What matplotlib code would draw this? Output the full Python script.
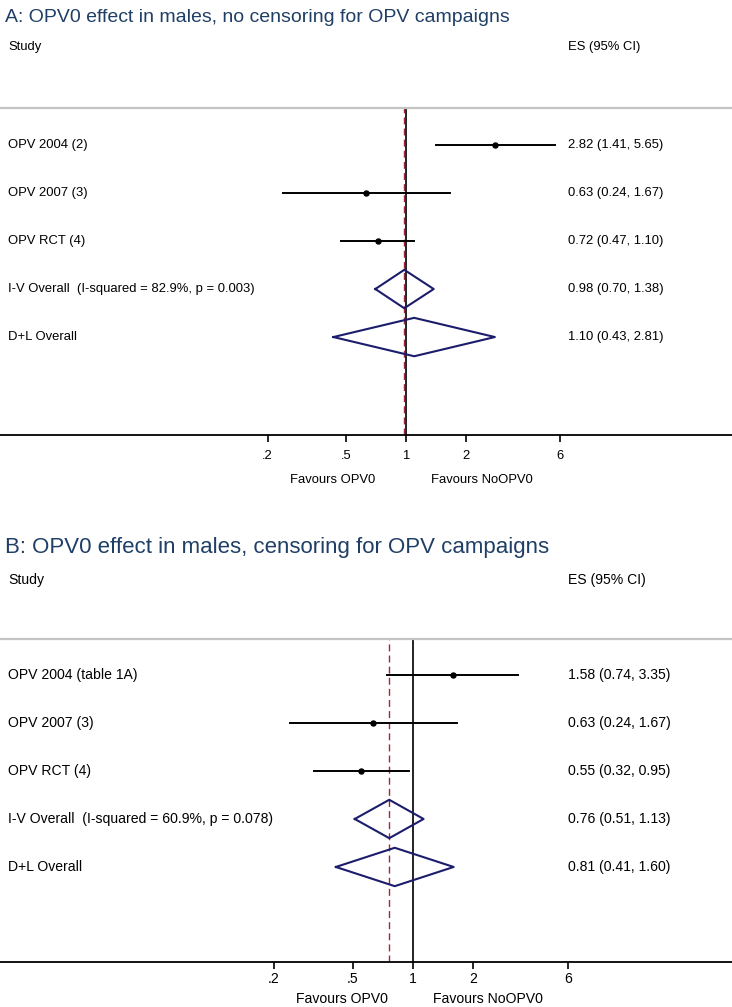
import numpy as np
import matplotlib.pyplot as plt

# Panel A: no censoring
titulo_a = "A: OPV0 effect in males, no censoring for OPV campaigns"
estudios_a = ["OPV 2004 (2)", "OPV 2007 (3)", "OPV RCT (4)"]
es_a = [2.82, 0.63, 0.72]
lo_a = [1.41, 0.24, 0.47]
hi_a = [5.65, 1.67, 1.10]
iv_a = [0.98, 0.70, 1.38]
dl_a = [1.10, 0.43, 2.81]
i2_a = "I-V Overall  (I-squared = 82.9%, p = 0.003)"

# Panel B: censoring
titulo_b = "B: OPV0 effect in males, censoring for OPV campaigns"
estudios_b = ["OPV 2004 (table 1A)", "OPV 2007 (3)", "OPV RCT (4)"]
es_b = [1.58, 0.63, 0.55]
lo_b = [0.74, 0.24, 0.32]
hi_b = [3.35, 1.67, 0.95]
iv_b = [0.76, 0.51, 1.13]
dl_b = [0.81, 0.41, 1.60]
i2_b = "I-V Overall  (I-squared = 60.9%, p = 0.078)"

ticks = [0.2, 0.5, 1, 2, 6]
tick_labels = [".2", ".5", "1", "2", "6"]

W, H = 732, 1007
fig = plt.figure(figsize=(W / 100, H / 100), dpi=100)
plt.rcParams['font.family'] = ['Liberation Sans', 'DejaVu Sans']

color_titulo = "#1f3f66"
color_diamante = "#1c1c6c"
color_ref = "#9a2b3c"


def panel(top, bottom, x1, k, ylo, yhi, titulo, estudios, es, lo, hi, iv, dl, i2,
          y_titulo, y_header, fs, fs_tit, fav_y, tick_pad):
    ax = fig.add_axes([0, 1 - bottom / H, 1, (bottom - top) / H])
    ax.set_xscale('log')
    ax.set_xlim(np.exp(-x1 / k), np.exp((W - x1) / k))
    ax.set_ylim(yhi, ylo)
    for s in ['left', 'right']:
        ax.spines[s].set_visible(False)
    ax.spines['top'].set_color('#c4c4c4')
    ax.spines['top'].set_linewidth(1.6)
    ax.spines['bottom'].set_linewidth(1.3)
    ax.set_yticks([])
    ax.set_xticks(ticks)
    ax.set_xticklabels(tick_labels, fontsize=fs)
    ax.xaxis.set_minor_locator(plt.NullLocator())
    ax.tick_params(axis='x', length=5, width=1.2, pad=tick_pad)

    # lineas de referencia
    ax.axvline(1, color='#222222', lw=1.4, zorder=1)
    ax.axvline(iv[0], color=color_ref, lw=1.0, ls=(0, (5, 3)), zorder=2)

    filas = range(len(estudios))
    for i in filas:
        ax.plot([lo[i], hi[i]], [i, i], color='black', lw=1.4, zorder=3)
        ax.plot(es[i], i, 'o', color='black', ms=3.6, zorder=4)
        ax.text(8 / W, i, estudios[i], transform=ax.get_yaxis_transform(),
                va='center', ha='left', fontsize=fs)
        ax.text(568 / W, i, f"{es[i]:.2f} ({lo[i]:.2f}, {hi[i]:.2f})",
                transform=ax.get_yaxis_transform(), va='center', ha='left', fontsize=fs)

    # diamantes
    for j, (pooled, etiqueta) in enumerate([(iv, i2), (dl, "D+L Overall")]):
        y = len(estudios) + j
        h = 0.4
        ax.plot([pooled[1], pooled[0], pooled[2], pooled[0], pooled[1]],
                [y, y - h, y, y + h, y], color=color_diamante, lw=1.5, zorder=5)
        ax.text(8 / W, y, etiqueta, transform=ax.get_yaxis_transform(),
                va='center', ha='left', fontsize=fs)
        ax.text(568 / W, y, f"{pooled[0]:.2f} ({pooled[1]:.2f}, {pooled[2]:.2f})",
                transform=ax.get_yaxis_transform(), va='center', ha='left', fontsize=fs)

    fig.text(5 / W, 1 - y_titulo / H, titulo, color=color_titulo, fontsize=fs_tit,
             va='center', ha='left')
    fig.text(8 / W, 1 - y_header / H, "Study", fontsize=fs, va='center', ha='left')
    fig.text(568 / W, 1 - y_header / H, "ES (95% CI)", fontsize=fs, va='center', ha='left')
    fig.text(fav_y[0] / W, 1 - fav_y[2] / H, "Favours OPV0", fontsize=fs, va='center', ha='center')
    fig.text(fav_y[1] / W, 1 - fav_y[2] / H, "Favours NoOPV0", fontsize=fs, va='center', ha='center')
    return ax


ax_a = panel(108, 435, 406, 86, -0.77, 6.04, titulo_a, estudios_a, es_a, lo_a, hi_a,
             iv_a, dl_a, i2_a, 17, 47, 9.4, 14, (333, 482, 480), 6)
ax_b = panel(639, 962, 413, 86.5, -0.75, 5.98, titulo_b, estudios_b, es_b, lo_b, hi_b,
             iv_b, dl_b, i2_b, 548, 580, 10.1, 16, (342, 488, 999), 2)

fig.savefig("out.png", dpi=100)
